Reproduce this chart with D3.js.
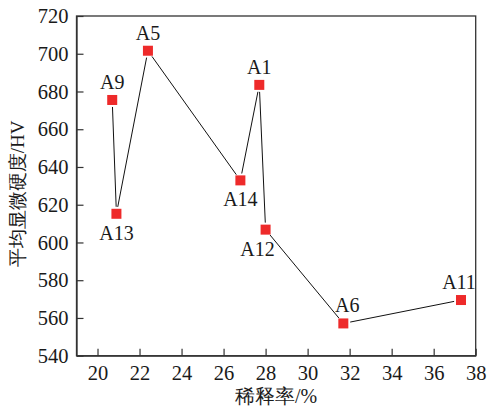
<!DOCTYPE html>
<html>
<head>
<meta charset="utf-8">
<script src="https://cdn.jsdelivr.net/npm/d3@7"></script>
<style>
  body { margin: 0; background: #fff; }
</style>
</head>
<body>
<script>
// samples, in the order the line joins them
var names = ["A9", "A13", "A5", "A14", "A1", "A12", "A6", "A11"];
var dilution = [20.7, 20.9, 22.4, 26.8, 27.7, 28.0, 31.7, 37.3];
var hardness = [675.5, 615.2, 701.6, 632.9, 683.5, 606.8, 557.1, 569.5];
var labelSide = ["above", "below", "above", "below", "above", "below", "above", "above"];

var xTicks = [20, 22, 24, 26, 28, 30, 32, 34, 36, 38];
var yTicks = [540, 560, 580, 600, 620, 640, 660, 680, 700, 720];

var FONT = "Liberation Serif";

var W = 489, H = 408;
var m = { left: 76.5, top: 16, right: 13.3, bottom: 52.3 };
var w = W - m.left - m.right, h = H - m.top - m.bottom;

var svg = d3.select("body").append("svg")
  .attr("width", W).attr("height", H);
var g = svg.append("g").attr("transform", "translate(" + m.left + "," + m.top + ")");

var x = d3.scaleLinear().domain([19, 38]).range([0, w]);
var y = d3.scaleLinear().domain([540, 720]).range([h, 0]);

var pts = names.map(function (n, i) {
  return { name: n, x: x(dilution[i]), y: y(hardness[i]), side: labelSide[i] };
});

// frame
g.append("rect").attr("width", w).attr("height", h)
  .attr("fill", "none").attr("stroke", "#333").attr("stroke-width", 1.3);

// axes, ticks inward
var xAxis = g.append("g").attr("transform", "translate(0," + h + ")")
  .call(d3.axisBottom(x).tickValues(xTicks).tickSizeInner(-7).tickSizeOuter(0).tickPadding(10));
var yAxis = g.append("g")
  .call(d3.axisLeft(y).tickValues(yTicks).tickSizeInner(-7).tickSizeOuter(0).tickPadding(8));
[xAxis, yAxis].forEach(function (a) {
  a.attr("font-family", FONT).attr("font-size", 20.5);
  a.select(".domain").attr("stroke", "#333").attr("stroke-width", 1.3);
  a.selectAll(".tick line").attr("stroke", "#333").attr("stroke-width", 1.2);
  a.selectAll(".tick text").attr("fill", "#1a1a1a");
});
xAxis.selectAll(".tick text").attr("dy", "0.7em");

// connecting line, cut short at each marker
var gap = 7;
for (var i = 0; i < pts.length - 1; i++) {
  var a = pts[i], b = pts[i + 1];
  var dx = b.x - a.x, dy = b.y - a.y, L = Math.sqrt(dx * dx + dy * dy);
  var ux = dx / L, uy = dy / L;
  g.append("line")
    .attr("x1", a.x + ux * gap).attr("y1", a.y + uy * gap)
    .attr("x2", b.x - ux * gap).attr("y2", b.y - uy * gap)
    .attr("stroke", "#111").attr("stroke-width", 1);
}

// markers
var s = 10;
g.selectAll("rect.pt").data(pts).enter().append("rect")
  .attr("class", "pt")
  .attr("x", function (d) { return d.x - s / 2; })
  .attr("y", function (d) { return d.y - s / 2; })
  .attr("width", s).attr("height", s)
  .attr("fill", "#ee2a2a");

// labels
var nudge = { A12: -8, A6: 4, A1: 0, A11: -2 };
g.selectAll("text.lab").data(pts).enter().append("text")
  .attr("class", "lab")
  .attr("x", function (d) { return d.x + (nudge[d.name] || 0); })
  .attr("y", function (d) { return d.side === "above" ? d.y - 11 : d.y + 26; })
  .attr("text-anchor", "middle")
  .style("font-family", FONT).style("font-size", "20px").attr("fill", "#1a1a1a")
  .text(function (d) { return d.name; });

// axis titles
svg.append("text")
  .attr("transform", "translate(24," + (m.top + h / 2 + 8) + ") rotate(-90)")
  .attr("text-anchor", "middle")
  .style("font-family", FONT).style("font-size", "19px").attr("fill", "#1a1a1a")
  .text("平均显微硬度/HV");
svg.append("text")
  .attr("x", 276).attr("y", 403)
  .attr("text-anchor", "middle")
  .style("font-family", FONT).style("font-size", "20px").attr("fill", "#1a1a1a")
  .text("稀释率/%");
</script>
</body>
</html>
